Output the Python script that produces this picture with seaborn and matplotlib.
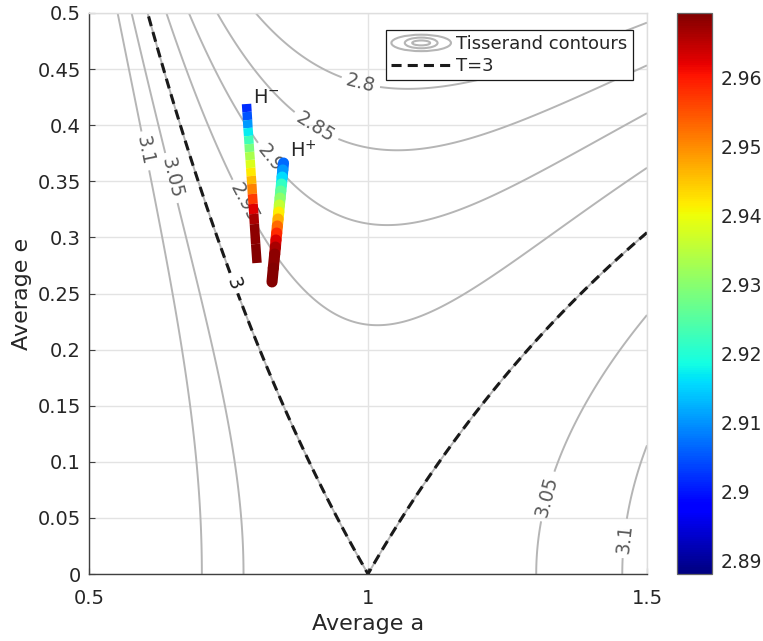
import numpy as np
import matplotlib
matplotlib.use("Agg")
import matplotlib.pyplot as plt
import seaborn as sns
from matplotlib.collections import LineCollection
from matplotlib.colors import Normalize
from matplotlib.cm import ScalarMappable
from matplotlib.patches import Ellipse
from matplotlib.lines import Line2D
from matplotlib.legend_handler import HandlerBase

sns.set_theme(style="white")
plt.rcParams['font.family'] = ['DejaVu Sans']

# Tisserand contour levels and where their labels sit (a, e)
levels = [2.8, 2.85, 2.9, 2.95, 3.0, 3.05, 3.1]
label_pos = [(0.986, 0.436), (0.905, 0.3975), (0.821, 0.369), (0.771, 0.329),
             (0.753, 0.258), (0.640, 0.352), (1.345, 0.066), (0.580, 0.375),
             (1.455, 0.032)]

# H- track: average a, average e, Tisserand value (colour)
hm_a = [0.7823, 0.7832, 0.7841, 0.7849, 0.7860, 0.7869, 0.7878, 0.7889, 0.7898,
        0.7907, 0.7918, 0.7928, 0.7941, 0.7953, 0.7964, 0.7987, 0.8011]
hm_e = [0.4189, 0.4118, 0.4046, 0.3975, 0.3904, 0.3832, 0.3761, 0.3690, 0.3619,
        0.3547, 0.3476, 0.3387, 0.3298, 0.3209, 0.3119, 0.2941, 0.2772]
hm_T = [2.901, 2.903, 2.907, 2.914, 2.920, 2.926, 2.931, 2.936, 2.940,
        2.944, 2.948, 2.954, 2.960, 2.965, 2.968, 2.969, 2.969]

# H+ track
hp_a = [0.8486, 0.8473, 0.8461, 0.8450, 0.8437, 0.8425, 0.8412, 0.8401,
        0.8389, 0.8376, 0.8364, 0.8351, 0.8341, 0.8328, 0.8303, 0.8280]
hp_e = [0.3663, 0.3601, 0.3538, 0.3476, 0.3414, 0.3351, 0.3289, 0.3226,
        0.3164, 0.3102, 0.3039, 0.2977, 0.2914, 0.2852, 0.2727, 0.2603]
hp_T = [2.905, 2.908, 2.913, 2.919, 2.924, 2.928, 2.933, 2.939,
        2.944, 2.950, 2.956, 2.961, 2.965, 2.968, 2.969, 2.969]

cb_ticks = [2.89, 2.90, 2.91, 2.92, 2.93, 2.94, 2.95, 2.96]
cb_min, cb_max = 2.888, 2.9695


def tisserand(a, e):
    return 1 / a + 2 * np.sqrt(a * (1 - e ** 2))


A, E = np.meshgrid(np.linspace(0.5, 1.5, 500), np.linspace(0, 0.5, 400))
T = tisserand(A, E)

fig = plt.figure(figsize=(7.63, 6.41), dpi=100)
ax = fig.add_axes([89 / 763, 67 / 641, 558 / 763, 561 / 641])
cax = fig.add_axes([677 / 763, 67 / 641, 35 / 763, 561.5 / 641])

ax.grid(True, color='0.89', linewidth=1)
ax.set_axisbelow(True)

fmt = lambda v: f"{v:g}"
cs = ax.contour(A, E, T, levels=levels, colors='#b5b5b5', linewidths=1.4, zorder=1)
lbls = ax.clabel(cs, fmt=fmt, manual=label_pos, inline=True, fontsize=13.5, colors='#5a5a5a')
for t in lbls:
    if t.get_text() == '3':
        t.set_visible(False)

cs3 = ax.contour(A, E, T, levels=[3.0], colors='k', linewidths=2.2, zorder=2)
cs3.set_linestyle((0, (3.3, 2.0)))
ax.clabel(cs3, fmt=fmt, manual=[label_pos[4]], inline=True, fontsize=13.5, colors='k')

norm = Normalize(cb_min, cb_max)


def draw_track(a, e, t, lw, cap):
    pts = np.column_stack([a, e]).reshape(-1, 1, 2)
    segs = np.concatenate([pts[:-1], pts[1:]], axis=1)
    t = np.asarray(t)
    lc = LineCollection(segs, cmap='jet', norm=norm, linewidths=lw, capstyle=cap, zorder=4)
    lc.set_array((t[:-1] + t[1:]) / 2)
    ax.add_collection(lc)


draw_track(hm_a, hm_e, hm_T, 6.8, 'butt')
draw_track(hp_a, hp_e, hp_T, 8.0, 'round')

ax.text(0.794, 0.425, r'H$^{-}$', fontsize=14, ha='left', va='center', zorder=5)
ax.text(0.860, 0.377, r'H$^{+}$', fontsize=14, ha='left', va='center', zorder=5)

ax.set_xlim(0.5, 1.5)
ax.set_ylim(0, 0.5)
ax.set_xticks([0.5, 1, 1.5])
ax.set_xticklabels(['0.5', '1', '1.5'])
ax.set_yticks(np.arange(0, 0.501, 0.05))
ax.set_yticklabels([f"{v:g}" for v in np.arange(0, 0.501, 0.05).round(2)])
ax.tick_params(direction='in', length=4, width=0.8, color='0.25', labelsize=14,
               labelcolor='0.15', bottom=True, left=True)
ax.tick_params(axis='x', pad=11)
ax.tick_params(axis='y', pad=6)
for s in ['left', 'bottom']:
    ax.spines[s].set_color('0.25')
    ax.spines[s].set_linewidth(1)
for s in ['top', 'right']:
    ax.spines[s].set_color('0.87')
    ax.spines[s].set_linewidth(1)
ax.set_xlabel('Average a', fontsize=16, color='0.15', labelpad=4)
ax.set_ylabel('Average e', fontsize=16, color='0.15')


class RingHandle:
    pass


class HandlerRings(HandlerBase):
    def create_artists(self, legend, orig_handle, xdescent, ydescent, width,
                       height, fontsize, trans):
        cx = width / 2 - xdescent
        cy = height / 2 - ydescent
        out = []
        for w, h in [(1.0, 1.0), (0.55, 0.65), (0.3, 0.3)]:
            out.append(Ellipse((cx, cy), width * w, height * 1.3 * h, fill=False,
                               edgecolor='#b5b5b5', lw=1.5, transform=trans))
        return out


dash = Line2D([], [], color='k', lw=2.2, linestyle=(0, (3.3, 2.0)))
leg = ax.legend([RingHandle(), dash], ['Tisserand contours', 'T=3'],
                handler_map={RingHandle: HandlerRings()},
                loc='upper right', bbox_to_anchor=(0.975, 0.97), borderaxespad=0,
                fontsize=13, handlelength=3.3, handletextpad=0.3,
                borderpad=0.3, labelspacing=0.2, fancybox=False, framealpha=1)
leg.get_frame().set_edgecolor('0.1')
leg.get_frame().set_linewidth(0.9)

sm = ScalarMappable(norm=norm, cmap='jet')
cb = fig.colorbar(sm, cax=cax)
cb.set_ticks(cb_ticks)
cb.set_ticklabels([f"{v:g}" for v in cb_ticks])
cax.tick_params(direction='in', length=4, color='0.25', labelsize=13.5, labelcolor='0.15', pad=6)
cb.outline.set_edgecolor('0.4')
cb.outline.set_linewidth(0.9)

fig.savefig('out.png', dpi=100)
